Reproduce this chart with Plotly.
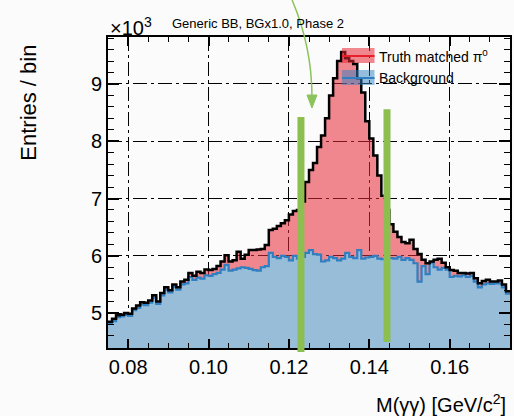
import plotly.graph_objects as go

# ---------------- data (entries per bin, in units of 10^3) ----------------
x_min, x_max, n_bins = 0.075, 0.175, 100
total = [
    4.85, 4.90, 4.96, 4.97, 5.00, 4.99, 5.08, 5.13, 5.19, 5.18,
    5.22, 5.31, 5.20, 5.35, 5.45, 5.40, 5.50, 5.45, 5.55, 5.58,
    5.70, 5.65, 5.72, 5.70, 5.76, 5.75, 5.77, 5.82, 5.90, 6.01,
    5.90, 5.92, 6.07, 5.95, 6.02, 6.10, 6.10, 6.11, 6.12, 6.19,
    6.45, 6.47, 6.52, 6.57, 6.62, 6.72, 6.78, 6.80, 6.95, 7.29,
    7.50, 7.62, 7.90, 8.10, 8.40, 8.80, 9.10, 9.40, 9.56, 9.45,
    9.40, 9.35, 9.10, 8.85, 8.35, 8.05, 7.75, 7.40, 7.05, 6.80,
    6.55, 6.42, 6.33, 6.24, 6.22, 6.28, 6.12, 6.03, 5.93, 5.87,
    5.90, 5.93, 5.95, 5.88, 5.80, 5.75, 5.74, 5.70, 5.70, 5.69,
    5.70, 5.61, 5.52, 5.56, 5.58, 5.55, 5.55, 5.57, 5.50, 5.38,
]
background = [
    4.82, 4.86, 4.93, 4.94, 4.97, 4.95, 5.05, 5.09, 5.15, 5.14,
    5.18, 5.27, 5.16, 5.31, 5.41, 5.36, 5.46, 5.41, 5.50, 5.52,
    5.63, 5.58, 5.62, 5.60, 5.66, 5.65, 5.68, 5.70, 5.76, 5.84,
    5.74, 5.76, 5.78, 5.80, 5.79, 5.77, 5.75, 5.74, 5.80, 5.82,
    6.05, 5.98, 5.96, 6.00, 5.98, 5.92, 6.00, 5.95, 5.98, 6.05,
    6.10, 6.03, 6.02, 5.90, 5.92, 5.98, 5.96, 5.92, 5.95, 6.05,
    5.98, 5.96, 6.10, 5.95, 5.97, 5.98, 6.00, 5.95, 5.94, 5.96,
    5.96, 5.95, 5.98, 5.93, 5.96, 5.93, 5.87, 5.55, 5.82, 5.68,
    5.88, 5.80, 5.76, 5.79, 5.76, 5.63, 5.65, 5.64, 5.66, 5.63,
    5.65, 5.55, 5.45, 5.50, 5.52, 5.51, 5.52, 5.52, 5.45, 5.34,
]
x_ticks = [0.08, 0.10, 0.12, 0.14, 0.16]
y_ticks = [5, 6, 7, 8, 9]
window = [0.1230, 0.1444]          # green signal-window markers
window_top = [0.743, 0.768]        # (paper y of the marker tops)

# ---------------- build step outlines ----------------
bw = (x_max - x_min) / n_bins
edges = [x_min + i * bw for i in range(n_bins + 1)]
tot_steps = total + [total[-1]]
bkg_steps = background + [background[-1]]

FONT = "Liberation Sans, Arial, Helvetica, sans-serif"

fig = go.Figure()
fig.add_trace(go.Scatter(x=edges, y=tot_steps, mode="lines", line_shape="hv",
                         line=dict(width=0), fill="tozeroy",
                         fillcolor="rgba(232,40,55,0.55)", hoverinfo="skip",
                         showlegend=False))
fig.add_trace(go.Scatter(x=edges, y=bkg_steps, mode="lines", line_shape="hv",
                         line=dict(width=2.2, color="#2f7fc1"), fill="tozeroy",
                         fillcolor="#97bdd9", showlegend=False))
fig.add_trace(go.Scatter(x=edges, y=tot_steps, mode="lines", line_shape="hv",
                         line=dict(width=2.5, color="black"), showlegend=False))

axis_common = dict(showline=True, linecolor="black", linewidth=1.6, mirror="allticks",
                   ticks="inside", tickcolor="black", tickwidth=1.6,
                   showgrid=True, gridcolor="black", gridwidth=1.4,
                   griddash="14px,4px,3px,4px", zeroline=False,
                   tickfont=dict(family=FONT, size=20, color="black"))

fig.update_xaxes(range=[x_min, x_max], tickvals=x_ticks,
                 ticktext=[f"{v:.2f}" for v in x_ticks], ticklen=9,
                 minor=dict(ticks="inside", dtick=0.005, tick0=0.075, ticklen=5,
                            tickwidth=1.3, tickcolor="black", showgrid=False),
                 **axis_common)
fig.update_yaxes(range=[4.39, 9.82], tickvals=y_ticks,
                 ticktext=[str(v) for v in y_ticks], ticklen=11,
                 minor=dict(ticks="inside", dtick=0.2, tick0=0, ticklen=6,
                            tickwidth=1.3, tickcolor="black", showgrid=False),
                 **axis_common)

green = "#8cbe50"
shapes = [
    dict(type="line", xref="x", yref="paper", x0=window[0], x1=window[0],
         y0=-0.013, y1=window_top[0], line=dict(color=green, width=7)),
    dict(type="line", xref="x", yref="paper", x0=window[1], x1=window[1],
         y0=0.019, y1=window_top[1], line=dict(color=green, width=7)),
    # curved arrow
    dict(type="path", xref="paper", yref="paper",
         path="M 0.4579,1.119 Q 0.5074,0.9678 0.5074,0.8071",
         line=dict(color="#8cc35a", width=1.5)),
    dict(type="path", xref="paper", yref="paper",
         path="M 0.4950,0.8135 L 0.5198,0.8135 L 0.5074,0.7717 Z",
         fillcolor="#8cc35a", line=dict(color="#8cc35a", width=1)),
    # legend
    dict(type="rect", xref="paper", yref="paper", x0=0.582, x1=0.663,
         y0=0.916, y1=0.965, fillcolor="rgba(232,40,55,0.55)", line=dict(width=0)),
    dict(type="line", xref="paper", yref="paper", x0=0.582, x1=0.663,
         y0=0.939, y1=0.939, line=dict(color="#e8202a", width=2)),
    dict(type="rect", xref="paper", yref="paper", x0=0.582, x1=0.663,
         y0=0.846, y1=0.894, fillcolor="rgba(47,127,193,0.5)", line=dict(width=0)),
    dict(type="line", xref="paper", yref="paper", x0=0.582, x1=0.663,
         y0=0.868, y1=0.868, line=dict(color="#2f7fc1", width=2)),
]

annotations = [
    dict(text="Truth matched π<sup>0</sup>", x=0.668, y=0.939, xref="paper", yref="paper",
         xanchor="left", yanchor="middle", showarrow=False,
         font=dict(family=FONT, size=14, color="black")),
    dict(text="Background", x=0.668, y=0.868, xref="paper", yref="paper",
         xanchor="left", yanchor="middle", showarrow=False,
         font=dict(family=FONT, size=14, color="black")),
    dict(text="Generic BB, BGx1.0, Phase 2", x=0.153, y=1.042, xref="paper", yref="paper",
         xanchor="left", yanchor="middle", showarrow=False,
         font=dict(family=FONT, size=13, color="black")),
    dict(text="×10<sup>3</sup>", x=0.0, y=1.035, xref="paper", yref="paper",
         xanchor="left", yanchor="middle", showarrow=False,
         font=dict(family=FONT, size=20, color="black")),
    dict(text="Entries / bin", x=-0.198, y=0.79, xref="paper", yref="paper",
         xanchor="center", yanchor="middle", textangle=-90, showarrow=False,
         font=dict(family=FONT, size=22, color="black")),
    dict(text="M(γγ) [GeV/c<sup>2</sup>]", x=0.995, y=-0.178, xref="paper", yref="paper",
         xanchor="right", yanchor="middle", showarrow=False,
         font=dict(family=FONT, size=20, color="black")),
]

fig.update_layout(width=514, height=416, autosize=False,
                  margin=dict(l=108, r=2, t=37, b=68),
                  paper_bgcolor="#fbfbfb", plot_bgcolor="#fbfbfb",
                  shapes=shapes, annotations=annotations, showlegend=False)

fig.write_html("out.html")
